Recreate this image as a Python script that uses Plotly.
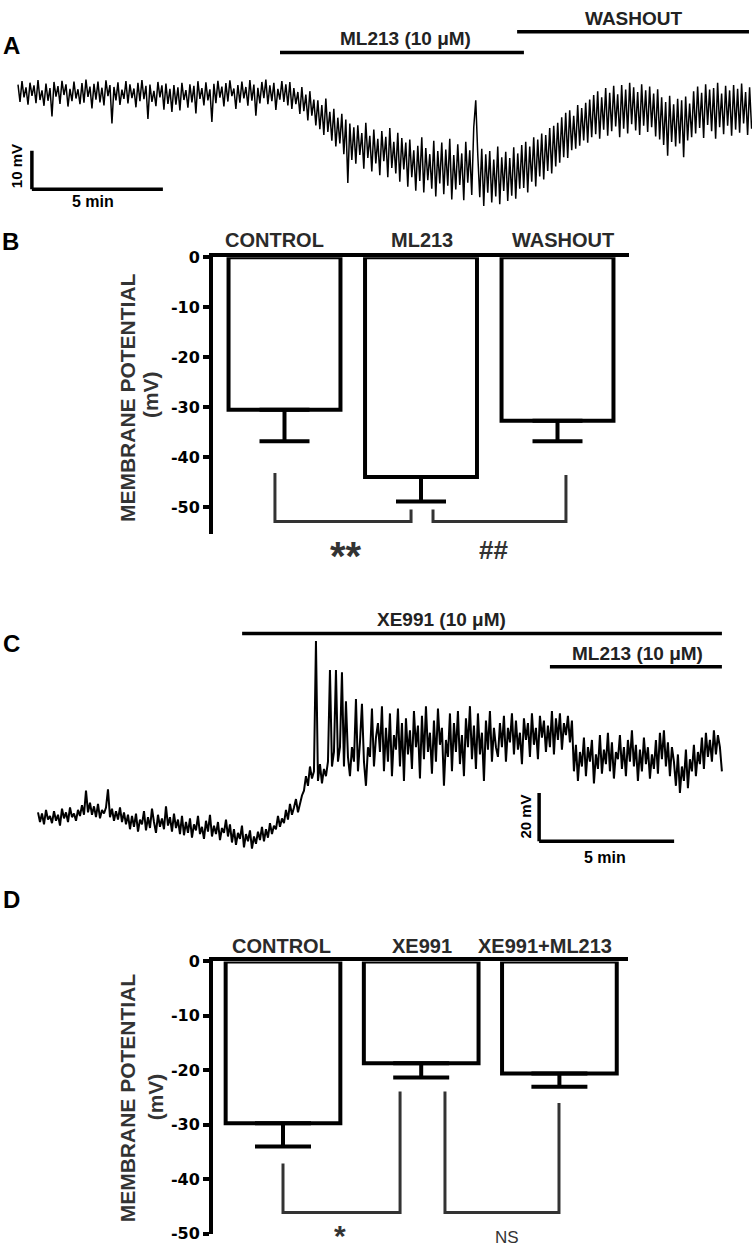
import numpy as np
import plotly.graph_objects as go

# ---------------- DATA ----------------
# Panel A trace (membrane potential, mV relative to start), evenly sampled over 28 min
trace_a_mv = [
    # flat control period
    2.1, -2.4, 3.0, -1.2, 1.4, -3.1, 2.6, -0.8, 1.9, -2.7, 3.3, -1.9, 0.6, -3.4, 2.4, -2.1, 1.2, -6.2, 2.8, -1.0,
    1.7, -2.9, 3.1, -0.6, 2.2, -3.6, 1.0, -2.2, 2.9, -1.5, 0.9, -3.0, 2.5, -2.6, 3.4, -1.1, 1.6, -4.1, 2.3, -1.8,
    2.9, -2.5, 1.3, -3.3, 3.2, -0.9, 2.0, -8.0, 1.5, -2.0, 2.7, -3.2, 0.8, -1.6, 3.0, -2.8, 2.2, -1.4, 1.1, -3.8,
    2.6, -2.2, 3.3, -1.7, 1.8, -6.8, 2.1, -2.4, 0.5, -3.5, 2.8, -1.2, 1.9, -4.4, 2.4, -2.9, 1.0, -5.0, 2.0, -3.1,
    1.4, -4.6, 2.6, -1.9, 0.7, -3.9, 2.2, -2.5, 1.8, -5.4, 3.0, -1.6, 1.2, -3.3, 2.7, -2.0, 0.9, -7.6, 2.3, -2.7,
    3.1, -1.3, 1.6, -3.6, 2.5, -2.3, 3.2, -0.9, 1.1, -4.2, 2.0, -2.6, 2.9, -1.5, 1.5, -3.4, 3.3, -2.1, 2.1, -6.0,
    1.3, -2.8, 2.8, -1.4, 3.4, -3.0, 1.9, -2.2, 2.6, -4.5, 1.0, -1.8, 3.0, -2.4, 2.2, -3.3,
    # ML213 hyperpolarisation
    2.8, -4.2, 1.2, -3.0, 0.2, -5.5, 1.5, -4.8, -0.5, -7.2, 0.4, -6.0, -1.8, -8.5,
    -2.0, -9.5, -3.2, -11.0, -1.5, -10.2, -5.0, -12.5, -4.2, -14.0, -6.5, -13.2, -5.5, -16.0, -7.0, -23.5, -8.0,
    -17.5, -9.0, -18.5, -8.5, -16.2, -10.5, -19.8, -7.8, -17.0, -11.2, -20.5, -9.6, -18.4, -12.0, -21.5, -10.0,
    -17.8, -11.5, -22.0, -9.2, -19.6, -12.8, -21.0, -10.4, -23.2, -11.8, -20.0,
    -13.0, -24.5, -12.2, -22.0, -15.0, -25.5, -13.8, -23.0, -11.6, -26.0, -14.4, -22.8, -16.0, -25.0, -12.5, -27.0,
    -15.2, -23.6, -13.0, -26.4, -14.8, -24.2, -12.0, -27.8, -16.2, -25.2, -13.4, -24.0, -15.8, -28.0, -12.8, -23.4,
    -15.0, -26.6,
    -9.0, -2.0, -16.0,
    -27.2, -14.6, -29.5, -16.0, -26.0, -15.2, -28.6, -17.4, -27.0, -14.0, -29.0, -16.8, -25.6, -15.4, -28.2, -17.0,
    -26.8, -14.2, -27.6, -15.8, -25.0, -13.6,
    # washout recovery
    -24.8, -12.8, -26.0, -14.0, -23.2, -11.6, -24.4, -12.2, -21.8, -10.6, -22.6, -11.0, -20.4, -9.2, -21.0, -8.6,
    -19.2, -7.8,
    -18.2, -6.4, -16.8, -5.2, -17.0, -4.6, -15.0, -6.0, -14.6, -3.2, -13.8, -4.0, -12.4, -2.6, -13.0, -1.8, -11.6,
    -0.6, -10.8, 0.4, -12.0, -1.2, -9.6, 1.2, -11.2, 0.0, -10.0, 1.8, -8.8, -0.4, -11.6, 2.0, -9.4, 0.8, -10.6,
    2.6, -8.2, 1.4, -9.8, 0.2, -11.0, 2.2, -8.6, 0.6, -10.2, 1.6, -9.0, -0.2, -11.4, 0.9,
    -12.2, -1.2, -13.6, -2.4, -16.4, -0.8, -12.8, -3.0, -14.0, -1.6, -13.2, -2.0, -16.8, -1.0, -12.4, -2.8, -11.6,
    0.4, -10.6, 1.6, -9.2, 0.0, -11.8, 2.2, -8.4, 0.8, -10.0, 1.2, -12.0, 2.6, -9.0, -0.2, -10.8, 1.8, -8.6,
    0.6, -11.2, 2.0, -9.6, 1.0, -10.4, 2.4, -8.0, 0.2, -11.0, 1.4, -9.4,
]
trace_a_minutes = 28.0

# Panel C trace (mV relative to start), evenly sampled over 25.33 min
trace_c_mv = [
    3.0, -1.0, 2.5, -2.0, 4.0, 0.0, 1.5, -1.5, 3.5, -0.5, 2.0, -2.5, 4.5, 0.5, 3.0, -1.0, 5.0, 1.0, 2.5, -0.5,
    4.0, 1.5, 6.0, 2.0, 12.0,
    3.0, 7.0, 2.0, 5.5, 1.0, 6.5, 0.5, 4.0, 2.5, 5.0, 12.5, 1.0, 4.5, -0.5, 3.5, 0.0, 5.0, -1.0, 3.0, -2.0, 2.0,
    -4.0, 1.5, -3.0, 2.5, -5.0, 0.0, -2.0, 3.5, -4.5, 1.0, -3.5, 4.5, -1.0, -5.5, 2.0, -3.0, 0.5, -4.0, 5.5,
    -2.5, 1.0, -5.0, 2.5, -3.5, 0.0, -6.0, 1.5,
    -6.5, -1.0, -5.5, 0.5, -7.5, -2.0, -4.5, 1.5, -6.0, -3.0, -8.0, -0.5, -5.0, 2.0, -7.0, -2.5, -6.0, -1.0,
    -8.5, -3.5, -5.5, 0.0, -7.0, -2.0,
    -9.5, -4.0, -10.5, -5.5, -8.0, -2.5, -11.5, -6.0, -9.0, -4.5, -12.0, -7.0, -10.0, -5.0, -8.5, -3.0,
    # XE991 depolarisation
    -9.0, -4.0, -7.5, -1.5, -6.0, -2.5, -4.0, 1.5, -3.0, 0.5, -1.5, 4.0, 0.0, 6.5, 2.0, 5.0, 8.5, 3.0, 7.0, 10.0,
    12.0, 18.0, 14.0, 22.0, 17.0, 20.0,
    74.0,
    16.0, 23.0, 15.0, 21.0, 18.0, 24.0, 62.0,
    22.0, 28.0, 62.0, 24.0, 30.0, 61.0, 22.0, 49.0, 26.0, 18.0, 30.0, 24.0, 50.0, 20.0, 32.0, 48.0, 24.0, 14.0,
    30.0, 26.0, 46.0, 22.0, 34.0, 40.0, 28.0,
    47, 20, 38, 24, 44, 18, 35, 29, 46, 22, 40, 16, 42, 27, 37, 21, 45, 30, 39, 17,
    43, 25, 47, 28, 36, 19, 41, 24, 46, 31, 38, 14, 33, 26, 44, 20, 40, 28, 45, 23,
    35, 18, 42, 30, 47, 25, 39, 21, 44, 27, 36, 16, 41, 29, 45, 24, 38, 30,
    26, 40, 30, 43, 24, 38, 32, 44, 27, 41, 29, 36, 23, 42, 33, 40, 26, 44, 31, 38,
    25, 43, 34, 41, 28, 39, 30, 45, 27, 42, 33, 44, 29, 40, 35, 43, 32, 41,
    # + ML213
    20, 31, 16, 28, 22, 34, 18, 30, 24, 33, 15, 27, 21, 35, 19, 29, 23, 36, 20, 32,
    17, 28, 25, 35, 21, 30, 18, 33, 24, 37, 22, 31, 16, 29, 20, 34, 23, 30, 17, 27,
    21, 33, 19, 36, 25, 37, 22, 32, 18, 30,
    24, 14, 27, 11, 22, 16, 29, 13, 25, 20, 31, 18, 28, 23, 34, 21, 36, 26, 33, 24,
    37, 27, 35, 30, 20,
]
trace_c_minutes = 25.33

# Panel B bars
b_categories = ["CONTROL", "ML213", "WASHOUT"]
b_means = [-30.5, -43.9, -32.7]
b_sem = [6.3, 4.9, 4.1]

# Panel D bars
d_categories = ["CONTROL", "XE991", "XE991+ML213"]
d_means = [-29.7, -18.7, -20.6]
d_sem = [4.3, 2.6, 2.4]

y_ticks = [0, -10, -20, -30, -40, -50]

# ---------------- LAYOUT HELPERS ----------------
W, H = 752, 1259
FONT = "Liberation Sans"


def fx(px):
    return px / W


def fy(py):
    return 1 - py / H


def rng(p_lo, p_hi, origin_px, px_per_unit, flip=False):
    if flip:  # screen y grows downward, data grows upward
        return [(origin_px - p_hi) / px_per_unit, (origin_px - p_lo) / px_per_unit]
    return [(p_lo - origin_px) / px_per_unit, (p_hi - origin_px) / px_per_unit]


fig = go.Figure()

# ---------------- PANEL A ----------------
ta = np.linspace(0, trace_a_minutes, len(trace_a_mv))
fig.add_trace(go.Scatter(x=ta, y=trace_a_mv, mode="lines",
                         line=dict(color="black", width=1.5), xaxis="x", yaxis="y",
                         hoverinfo="skip"))
# ---------------- PANEL C ----------------
tc = np.linspace(0, trace_c_minutes, len(trace_c_mv))
fig.add_trace(go.Scatter(x=tc, y=trace_c_mv, mode="lines",
                         line=dict(color="black", width=2), xaxis="x3", yaxis="y3",
                         hoverinfo="skip"))

# ---------------- PANEL B ----------------
fig.add_trace(go.Bar(x=[0, 1, 2], y=b_means, width=0.82,
                     marker=dict(color="white", line=dict(color="black", width=4)),
                     error_y=dict(type="data", symmetric=False, array=[0, 0, 0],
                                  arrayminus=b_sem, thickness=4, width=25, color="black"),
                     cliponaxis=False, xaxis="x2", yaxis="y2"))
# ---------------- PANEL D ----------------
fig.add_trace(go.Bar(x=[0, 1, 2], y=d_means, width=0.83,
                     marker=dict(color="white", line=dict(color="black", width=4)),
                     error_y=dict(type="data", symmetric=False, array=[0, 0, 0],
                                  arrayminus=d_sem, thickness=4, width=28, color="black"),
                     cliponaxis=False, xaxis="x4", yaxis="y4"))

hidden = dict(visible=False, showgrid=False, zeroline=False, fixedrange=True)

# trace axes: A  (t=0 at 18px, 26.2 px/min; 0 mV at 85px, 3.9 px/mV)
A_X = rng(0, 752, 18, 26.2)
A_Y = rng(0, 215, 85, 3.9, flip=True)
# C  (t=0 at 38px, 27 px/min; 0 mV at 823px, 2.45 px/mV)
C_X = rng(0, 752, 38, 27.0)
C_Y = rng(585, 880, 823, 2.45, flip=True)

bar_y_axis = dict(showline=True, linecolor="black", linewidth=4, ticks="outside",
                  ticklen=6, tickwidth=4, tickcolor="black", showgrid=False,
                  zeroline=False, tickvals=y_ticks, ticktext=[str(v) for v in y_ticks],
                  tickfont=dict(family="DejaVu Sans", size=16, color="black", weight="bold"),
                  fixedrange=True)
bar_x_axis = dict(showline=True, linecolor="black", linewidth=4, side="top",
                  showticklabels=False, ticks="", showgrid=False, zeroline=False,
                  fixedrange=True)

fig.update_layout(
    width=W, height=H, autosize=False,
    margin=dict(l=0, r=0, t=0, b=0),
    paper_bgcolor="white", plot_bgcolor="rgba(0,0,0,0)",
    showlegend=False,
    font=dict(family=FONT, color="black"),
    xaxis=dict(hidden, domain=[0, 1], range=A_X, anchor="y"),
    yaxis=dict(hidden, domain=[fy(215), fy(0)], range=A_Y, anchor="x"),
    xaxis3=dict(hidden, domain=[0, 1], range=C_X, anchor="y3"),
    yaxis3=dict(hidden, domain=[fy(880), fy(585)], range=C_Y, anchor="x3"),
    xaxis2=dict(bar_x_axis, domain=[fx(213), fx(629)],
                range=rng(213, 629, 284.5, 136.5), anchor="y2"),
    yaxis2=dict(bar_y_axis, domain=[fy(533), fy(252)], range=[-55.3, 0], anchor="x2"),
    xaxis4=dict(bar_x_axis, domain=[fx(213), fx(628)],
                range=rng(213, 628, 283, 138.2), anchor="y4"),
    yaxis4=dict(bar_y_axis, domain=[fy(1243.5), fy(967)], range=[-50, 0], anchor="x4"),
)

shapes = []
ann = []


def seg(xref, yref, x0, y0, x1, y1, color="black", width=3.5):
    shapes.append(dict(type="line", xref=xref, yref=yref, x0=x0, y0=y0, x1=x1, y1=y1,
                       line=dict(color=color, width=width)))


def bracket(xref, yref, pts, color="#333333", width=3):
    path = "M " + " L ".join(f"{x},{y}" for x, y in pts)
    shapes.append(dict(type="path", xref=xref, yref=yref, path=path,
                       line=dict(color=color, width=width)))


def text(s, x, y, size, xref="paper", yref="paper", bold=True, angle=0,
         color="black", family=FONT, xshift=0):
    ann.append(dict(text=s, x=x, y=y, xref=xref, yref=yref, showarrow=False,
                    textangle=angle, xanchor="center", yanchor="middle", xshift=xshift,
                    font=dict(family=family, size=size, color=color,
                              weight="bold" if bold else "normal")))


# ---- Panel A decorations
seg("x", "y", 10.0, 10.5, 19.31, 10.5)          # ML213 application
seg("x", "y", 19.05, 15.9, 27.9, 15.9)          # washout
text("ML213 (10 μM)", 14.8, 14.1, 19, "x", "y", color="#222222")
text("WASHOUT", 23.5, 19.2, 19, "x", "y", color="#222222")
seg("x", "y", 0.53, -15.1, 0.53, -25.1)         # 10 mV
seg("x", "y", 0.53, -25.1, 5.53, -25.1)         # 5 min
text("10 mV", -0.06, -19.0, 15, "x", "y", angle=-90)
text("5 min", 2.86, -28.3, 16, "x", "y")
text("A", fx(11), fy(37), 24)

# ---- Panel B decorations
text("B", fx(10), fy(236), 24)
for i, (lab, sh) in enumerate(zip(b_categories, [-10, 1, 5])):
    text(lab, i, fy(235), 20, xref="x2", color="#2a2a2a", xshift=sh)
text("MEMBRANE POTENTIAL", fx(127), fy(394), 21, angle=-90, color="#333333")
text("(mV)", fx(150), fy(392), 21, angle=-90, color="#333333")
bracket("x2", "y2", [(-0.07, -43.1), (-0.07, -52.8), (0.927, -52.8), (0.927, -50.4)])
bracket("x2", "y2", [(1.088, -50.4), (1.088, -52.8), (2.062, -52.8), (2.062, -43.5)])
text("**", 0.45, fy(555), 40, xref="x2", color="#333333")
text("##", 1.53, fy(549), 26, xref="x2", color="#333333")

# ---- Panel C decorations
text("C", fx(11), fy(644), 24)
seg("x3", "y3", 7.56, 77.1, 25.33, 77.1)        # XE991
seg("x3", "y3", 18.96, 63.3, 25.33, 63.3)       # ML213
text("XE991 (10 μM)", 14.93, 82.9, 19, "x3", "y3", color="#222222")
text("ML213 (10 μM)", 22.2, 69.0, 19, "x3", "y3", color="#222222")
seg("x3", "y3", 18.56, 11.0, 18.56, -9.0)       # 20 mV
seg("x3", "y3", 18.56, -9.0, 23.56, -9.0)       # 5 min
text("20 mV", 18.07, 1.2, 15, "x3", "y3", angle=-90)
text("5 min", 21.0, -15.9, 16, "x3", "y3")

# ---- Panel D decorations
text("D", fx(11), fy(904), 24)
for i, (lab, sh) in enumerate(zip(d_categories, [-2, 1, -14])):
    text(lab, i, fy(951), 20, xref="x4", color="#2a2a2a", xshift=sh)
text("MEMBRANE POTENTIAL", fx(127), fy(1105), 21, angle=-90, color="#333333")
text("(mV)", fx(155), fy(1105), 21, angle=-90, color="#333333")
bracket("x4", "y4", [(0.0, -37.1), (0.0, -46.1), (0.847, -46.1), (0.847, -23.9)])
bracket("x4", "y4", [(1.172, -23.9), (1.172, -46.1), (1.997, -46.1), (1.997, -26.0)])
text("*", 0.41, fy(1245), 30, xref="x4", color="#333333")
text("NS", 1.62, fy(1247), 17, xref="x4", bold=False, color="#333333")

fig.update_layout(shapes=shapes, annotations=ann)
fig.write_html("out.html", config={"displayModeBar": False},
               post_script="document.body.style.margin='0';document.body.style.padding='0';")
